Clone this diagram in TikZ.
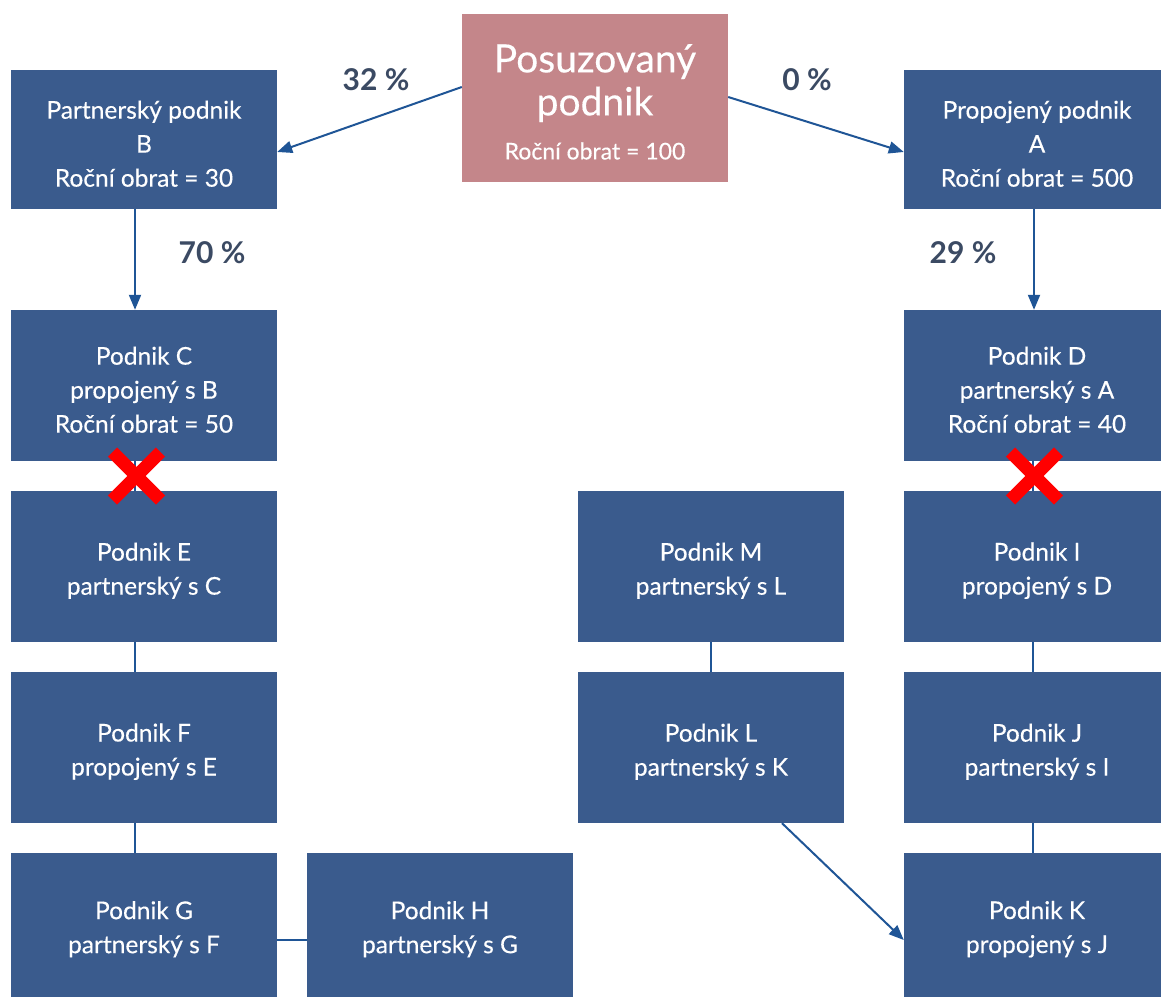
\documentclass[tikz,border=0pt]{standalone}
\usepackage{fontspec}
\setmainfont{Lato}[FakeBold=0.3]
\newfontfamily\lblfont{Lato}
\usetikzlibrary{arrows.meta}
\definecolor{boxblue}{HTML}{3A5B8D}
\definecolor{boxpink}{HTML}{C4868A}
\definecolor{arrblue}{HTML}{1F5596}
\definecolor{lblgray}{HTML}{3B4A63}
\newcommand{\tstr}{\rule{0pt}{26.5pt}}
\tikzset{
  box/.style={fill=boxblue, text=white, align=center, minimum width=266pt, inner sep=0pt,
    font=\fontsize{24.5}{34}\selectfont},
  pbox/.style={fill=boxpink, text=white, align=center, minimum width=266pt, minimum height=168pt, inner sep=0pt},
  conn/.style={draw=arrblue, line width=2pt},
  arr/.style={conn, -{Triangle[length=15pt,width=12pt]}},
  pct/.style={text=lblgray, font=\lblfont\fontsize{30}{32}\selectfont\bfseries},
  cross/.style={draw=red, line width=13pt},
}
\begin{document}
\begin{tikzpicture}[x=1pt,y=-1pt]
\useasboundingbox (0,0) rectangle (1161,998);
\clip (0,0) rectangle (1161,998);
% top
\node[pbox, font=\fontsize{39}{43}\selectfont] (P) at (595,98) {\rule{0pt}{36pt}Posuzovaný\\podnik\\[1pt]\fontsize{23}{26}\selectfont Roční obrat = 100};
% row 1
\node[box, minimum height=139pt] (B) at (144,139.5) {\tstr Partnerský podnik\\B\\Roční obrat = 30};
\node[box, minimum height=139pt] (A) at (1037,139.5) {\tstr Propojený podnik\\A\\Roční obrat = 500};
% row 2
\node[box, minimum height=151pt] (C) at (144,385.5) {\tstr Podnik C\\propojený s B\\Roční obrat = 50};
\node[box, minimum height=151pt] (D) at (1037,385.5) {\tstr Podnik D\\partnerský s A\\Roční obrat = 40};
% row 3
\node[box, minimum height=151pt] (E) at (144,566.5) {\tstr Podnik E\\partnerský s C};
\node[box, minimum height=151pt] (M) at (711,566.5) {\tstr Podnik M\\partnerský s L};
\node[box, minimum height=151pt] (I) at (1037,566.5) {\tstr Podnik I\\propojený s D};
% row 4
\node[box, minimum height=151pt] (F) at (144,747.5) {\tstr Podnik F\\propojený s E};
\node[box, minimum height=151pt] (L) at (711,747.5) {\tstr Podnik L\\partnerský s K};
\node[box, minimum height=151pt] (J) at (1037,747.5) {\tstr Podnik J\\partnerský s I};
% row 5
\node[box, minimum height=144pt] (G) at (144,925) {\tstr Podnik G\\partnerský s F};
\node[box, minimum height=144pt] (H) at (440,925) {\tstr Podnik H\\partnerský s G};
\node[box, minimum height=144pt] (K) at (1037,925) {\tstr Podnik K\\propojený s J};
% arrows
\draw[arr] (P.west |- 0,87) -- (B.east |- 0,152);
\draw[arr] (P.east |- 0,97) -- (A.west |- 0,152);
\draw[arr] (B.south -| 135,0) -- (C.north -| 135,0);
\draw[arr] (A.south -| 1034,0) -- (D.north -| 1034,0);
\draw[arr] (L.south -| 782,0) -- (K.west |- 0,940);
% plain lines
\draw[conn] (C.south -| 135,0) -- (E.north -| 135,0);
\draw[conn] (D.south -| 1033,0) -- (I.north -| 1033,0);
\draw[conn] (E.south -| 135,0) -- (F.north -| 135,0);
\draw[conn] (F.south -| 135,0) -- (G.north -| 135,0);
\draw[conn] (M) -- (L);
\draw[conn] (I.south -| 1033,0) -- (J.north -| 1033,0);
\draw[conn] (J.south -| 1033,0) -- (K.north -| 1033,0);
\draw[conn] (G.east |- 0,940) -- (H.west |- 0,940);
% crosses
\coordinate (X1) at (136.5,476);
\coordinate (X2) at (1034.5,476);
\foreach \c in {X1,X2}{
  \draw[cross] ([shift={(-24,-24)}]\c) -- ([shift={(24,24)}]\c);
  \draw[cross] ([shift={(-24,24)}]\c) -- ([shift={(24,-24)}]\c);
}
% labels
\node[pct] (l32) at (376,80) {32 \%};
\node[pct] (l0) at (807,80) {0 \%};
\node[pct] (l70) at (212,253) {70 \%};
\node[pct] (l29) at (963,253) {29 \%};
\end{tikzpicture}
\end{document}
